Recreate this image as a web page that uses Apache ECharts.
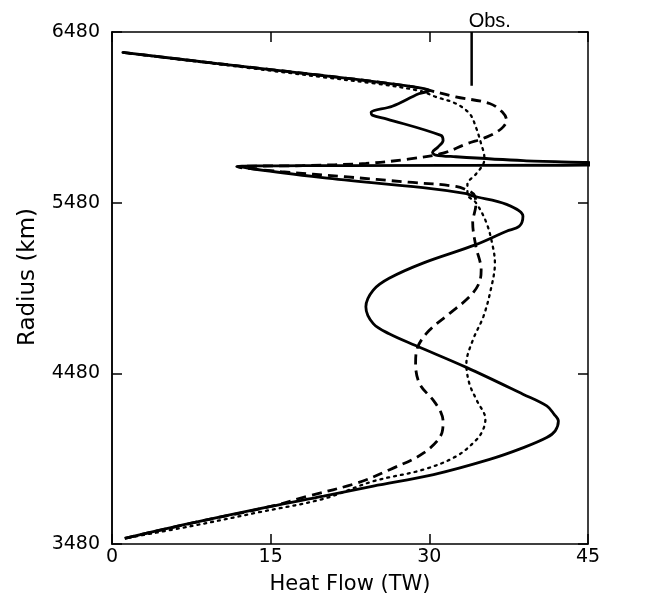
<!DOCTYPE html>
<html><head><meta charset="utf-8">
<script src="https://cdn.jsdelivr.net/npm/echarts@6/dist/echarts.min.js"></script>
<style>html,body{margin:0;padding:0;background:#fff}#c{width:659px;height:603px}</style>
</head><body><div id="c"></div>
<script>
const xTicks = [0, 15, 30, 45];
const yTicks = [3480, 4480, 5480, 6480];
const xTitle = 'Heat Flow (TW)';
const yTitle = 'Radius (km)';

const solidHeat = [1.0,10,20,27,29.5,30,29,26.5,24.5,24.6,26,31.1,31.3,30.8,30.3,30.6,32.5,38.9,46,46,11.8,19.9,29.4,33.5,34.1,37.3,38.85,38.5,37.3,34.4,29.4,26.2,24.7,24.0,24.7,26.2,28.7,33.5,38.85,41.1,41.8,42.2,41.9,41.1,38.9,35.7,30.4,24.7,20.0,15.0,7.5,1.2];
const solidRadius = [6360,6295,6225,6172,6148,6136,6118,6045,6008,5993,5970,5874,5844,5805,5775,5759,5749,5726,5710,5702,5692,5627,5568,5533,5519,5470,5401,5342,5313,5234,5126,5037,4968,4870,4771,4712,4643,4515,4358,4289,4240,4200,4143,4104,4045,3976,3887,3819,3760,3700,3602,3513];

const dashedHeat = [1.0,10,20,27,29.5,32.5,35.7,36.9,37.3,36.8,35.4,33.5,31.3,28,24,18,11.8,16,22,28,32.5,34.0,34.3,34.4,34.1,34.4,34.9,34.7,33.8,31.9,30.0,28.9,28.7,29.1,30.4,31.1,31.3,31.2,29.5,26.3,23.2,18.5,15.0,7.5,1.2];
const dashedRadius = [6360,6295,6225,6172,6145,6100,6061,6011,5962,5913,5864,5824,5770,5735,5710,5697,5690,5662,5632,5600,5575,5540,5519,5470,5362,5224,5086,5008,4929,4830,4732,4634,4535,4417,4320,4250,4200,4133,4015,3917,3838,3760,3700,3602,3513];

const dottedHeat = [1.0,10,20,25,29.1,30.6,32.5,33.8,34.4,34.9,35.2,35.1,34.4,33.6,33.6,34.4,35.4,36.0,36.2,35.8,35.1,34.1,33.5,33.8,34.5,35.3,35.1,34.5,32.6,29.5,24.7,20.0,13.8,7.5,1.2];
const dottedRadius = [6360,6292,6215,6177,6135,6100,6061,6002,5923,5824,5746,5706,5647,5588,5529,5480,5362,5224,5126,4968,4811,4673,4535,4417,4320,4212,4153,4094,3996,3917,3848,3745,3665,3585,3513];

const obsHeat = [34, 34];
const obsRadius = [6165, 6480];
const obsLabel = 'Obs.';

const zip = (a, b) => a.map((v, i) => [v, b[i]]);
const FONT = 'DejaVu Sans';
const tickStyle = { color: '#000', width: 1.5 };
const lineAxis = { show: true, onZero: false, lineStyle: tickStyle };
const innerTick = { show: true, inside: true, length: 10, lineStyle: tickStyle };

const xBase = {
  type: 'value', min: xTicks[0], max: xTicks[xTicks.length - 1], interval: xTicks[1] - xTicks[0],
  splitLine: { show: false }, axisLine: lineAxis, axisTick: innerTick
};
const yBase = {
  type: 'value', min: yTicks[0], max: yTicks[yTicks.length - 1], interval: yTicks[1] - yTicks[0],
  splitLine: { show: false }, axisLine: lineAxis, axisTick: innerTick
};

const option = {
  animation: false,
  backgroundColor: '#fff',
  grid: { left: 112, right: 71, top: 32, bottom: 59 },
  xAxis: [
    Object.assign({}, xBase, {
      position: 'bottom',
      axisLabel: { color: '#000', fontFamily: FONT, fontSize: 19, margin: 4 },
      name: xTitle, nameLocation: 'middle', nameGap: 30,
      nameTextStyle: { color: '#000', fontFamily: FONT, fontSize: 21 }
    }),
    Object.assign({}, xBase, { position: 'top', axisLabel: { show: false } })
  ],
  yAxis: [
    Object.assign({}, yBase, {
      position: 'left',
      axisLabel: { color: '#000', fontFamily: FONT, fontSize: 19, margin: 12, formatter: v => String(v) },
      name: yTitle, nameLocation: 'middle', nameGap: 72, nameRotate: 90,
      nameTextStyle: { color: '#000', fontFamily: FONT, fontSize: 23, padding: [0, 0, 0, 22] }
    }),
    Object.assign({}, yBase, { position: 'right', axisLabel: { show: false } }),
    Object.assign({}, yBase, { position: 'left', axisLabel: { show: false } })
  ],
  series: [
    {
      name: 'dotted', type: 'line', data: zip(dottedHeat, dottedRadius),
      showSymbol: false, smooth: 0.35, clip: true,
      lineStyle: { color: '#000', width: 2.3, type: [2, 5], cap: 'round' }
    },
    {
      name: 'dashed', type: 'line', data: zip(dashedHeat, dashedRadius),
      showSymbol: false, smooth: 0.35, clip: true,
      lineStyle: { color: '#000', width: 2.8, type: [10, 6] }
    },
    {
      name: 'solid', type: 'line', data: zip(solidHeat, solidRadius),
      showSymbol: false, smooth: 0.35, clip: true,
      lineStyle: { color: '#000', width: 2.8 }
    },
    {
      name: 'obs', type: 'line', data: zip(obsHeat, obsRadius),
      showSymbol: false, clip: false,
      lineStyle: { color: '#000', width: 2.5 },
      endLabel: { show: true, formatter: obsLabel, color: '#000', fontFamily: 'Liberation Sans', fontSize: 20,
                  align: 'left', verticalAlign: 'bottom', distance: 0, offset: [-3, -1] }
    }
  ]
};

const chart = echarts.init(document.getElementById('c'), null, { renderer: 'canvas' });
chart.setOption(option);
</script>
</body></html>
